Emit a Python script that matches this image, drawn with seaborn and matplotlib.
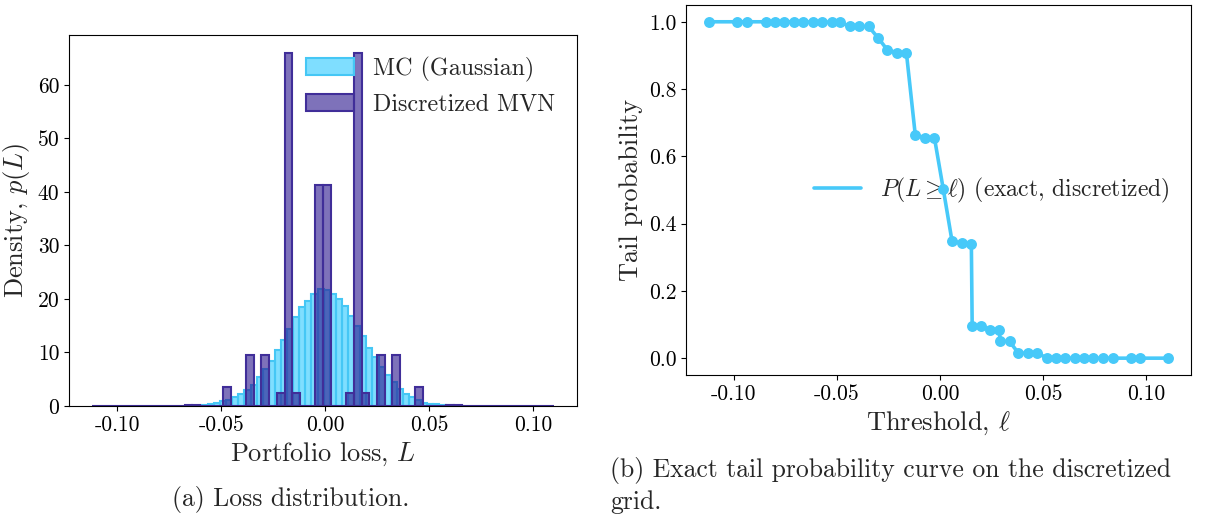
import numpy as np
import pandas as pd
import matplotlib
matplotlib.use("Agg")
import matplotlib.pyplot as plt
import seaborn as sns

# ---------------------------------------------
# DATA
# ---------------------------------------------
# MC (Gaussian) histogram, density per bin
mc_lo, mc_hi = -0.06818, 0.06678
mc_density = [0.03, 0.05, 0.08, 0.1, 0.3, 0.6, 1.0, 1.2, 1.6, 2.2,
              2.9, 3.9, 5.4, 6.9, 8.4, 10.5, 12.3, 14.4, 16.7, 18.4,
              19.6, 20.9, 21.8, 21.7, 20.9, 19.9, 18.7, 16.8, 15.0, 13.1,
              10.8, 9.1, 7.2, 5.8, 4.5, 3.1, 2.2, 1.6, 1.2, 0.6,
              0.4, 0.3, 0.15, 0.1, 0.05, 0.03]

# Discretized MVN histogram, density per bin (60 bins)
disc_lo, disc_hi = -0.1122, 0.1102
disc_density = [0.02, 0, 0, 0, 0, 0, 0, 0, 0, 0,
                0, 0, 0.15, 0.15, 0, 0, 0, 3.5, 0, 0,
                9.5, 0, 9.5, 0, 2.5, 66.0, 2.5, 0, 0, 41.2,
                41.2, 0, 0, 2.5, 66.0, 2.5, 0, 9.5, 0, 9.5,
                0, 0, 3.5, 0, 0, 0, 0.15, 0.15, 0, 0,
                0, 0, 0, 0, 0, 0, 0, 0, 0, 0.02]

# Exact tail probability P(L >= l) on the discretized grid
threshold = [-0.1121, -0.0984, -0.0939, -0.0847, -0.0802, -0.0755, -0.0710, -0.0664,
             -0.0618, -0.0572, -0.0527, -0.0484, -0.0439, -0.0392, -0.0347, -0.0301,
             -0.0257, -0.0209, -0.0164, -0.0121, -0.0073, -0.0028, 0.0015, 0.0057,
             0.0105, 0.0151, 0.0155, 0.0197, 0.0242, 0.0287, 0.0290, 0.0336,
             0.0379, 0.0424, 0.0471, 0.0516, 0.0561, 0.0605, 0.0653, 0.0698,
             0.0742, 0.0790, 0.0836, 0.0923, 0.0968, 0.1105]
tail_prob = [1.000, 1.000, 1.000, 1.000, 1.000, 1.000, 1.000, 1.000,
             0.999, 0.999, 0.999, 0.999, 0.986, 0.986, 0.986, 0.952,
             0.917, 0.908, 0.908, 0.664, 0.655, 0.655, 0.502, 0.349,
             0.341, 0.338, 0.095, 0.095, 0.085, 0.085, 0.050, 0.050,
             0.015, 0.015, 0.015, 0.001, 0.001, 0.000, 0.000, 0.000,
             0.000, 0.000, 0.000, 0.000, 0.000, 0.000]

# ---------------------------------------------
# STYLE
# ---------------------------------------------
sns.set_style("ticks")
plt.rcParams['font.family'] = ['cmr10', 'DejaVu Serif']
plt.rcParams['mathtext.fontset'] = 'cm'
plt.rcParams['axes.unicode_minus'] = False
plt.rcParams['axes.edgecolor'] = 'black'
plt.rcParams['xtick.color'] = 'black'
plt.rcParams['ytick.color'] = 'black'

TICK_FS = 15.5
LABEL_FS = 19
LEGEND_FS_A = 17.3
LEGEND_FS_B = 17
CAPTION_FS = 18.5

MC_FACE = (0.0, 0.75, 1.0, 0.5)
MC_EDGE = (0.27, 0.78, 0.96, 1.0)
DISC_FACE = (0.16, 0.08, 0.55, 0.6)
DISC_EDGE = (0.25, 0.18, 0.60, 1.0)
LINE_COLOR = '#47C9F9'

fig = plt.figure(figsize=(12.07, 5.17), dpi=100)
ax1 = fig.add_axes([0.0572, 0.2147, 0.4209, 0.7176])
ax2 = fig.add_axes([0.5684, 0.2747, 0.4184, 0.7157])

# ---------------------------------------------
# (a) Loss distribution
# ---------------------------------------------
mc_n = len(mc_density)
mc_edges = np.linspace(mc_lo, mc_hi, mc_n + 1)
mc_df = pd.DataFrame({'L': (mc_edges[:-1] + mc_edges[1:]) / 2, 'w': mc_density})

disc_n = len(disc_density)
disc_edges = np.linspace(disc_lo, disc_hi, disc_n + 1)
disc_df = pd.DataFrame({'L': (disc_edges[:-1] + disc_edges[1:]) / 2, 'w': disc_density})

sns.histplot(data=mc_df, x='L', weights='w', bins=mc_n, binrange=(mc_lo, mc_hi),
             facecolor=MC_FACE, edgecolor=MC_EDGE, linewidth=1.5,
             label='MC (Gaussian)', ax=ax1)
sns.histplot(data=disc_df, x='L', weights='w', bins=disc_n, binrange=(disc_lo, disc_hi),
             facecolor=DISC_FACE, edgecolor=DISC_EDGE, linewidth=1.5,
             label='Discretized MVN', ax=ax1)

ax1.set_xlabel("Portfolio loss, $L$", fontsize=LABEL_FS)
ax1.set_ylabel("Density, $p(L)$", fontsize=LABEL_FS)
ax1.set_xticks([-0.10, -0.05, 0.00, 0.05, 0.10])
ax1.tick_params(labelsize=TICK_FS)
ax1.legend(loc='upper right', frameon=False, fontsize=LEGEND_FS_A)

# ---------------------------------------------
# (b) Tail probability curve
# ---------------------------------------------
tail_df = pd.DataFrame({'l': threshold, 'p': tail_prob})
sns.lineplot(data=tail_df, x='l', y='p', color=LINE_COLOR, linewidth=2.6,
             estimator=None, sort=False,
             label=r"$P(L \geq \ell)$ (exact, discretized)", ax=ax2, zorder=6)
sns.scatterplot(data=tail_df, x='l', y='p', color=LINE_COLOR, s=62, linewidth=0,
                ax=ax2, zorder=7, legend=False)

ax2.set_xlabel(r"Threshold, $\ell$", fontsize=LABEL_FS)
ax2.set_ylabel("Tail probability", fontsize=LABEL_FS)
ax2.set_xticks([-0.10, -0.05, 0.00, 0.05, 0.10])
ax2.tick_params(labelsize=TICK_FS)
leg = ax2.legend(loc='center right', frameon=False, fontsize=LEGEND_FS_B)
leg.set_zorder(1)

# ---------------------------------------------
# CAPTIONS
# ---------------------------------------------
fig.text(0.2411, 0.0348, "(a) Loss distribution.", ha='center', va='center',
         fontsize=CAPTION_FS)
fig.text(0.5054, 0.0909, "(b) Exact tail probability curve on the discretized",
         ha='left', va='center', fontsize=CAPTION_FS)
fig.text(0.5054, 0.0290, "grid.", ha='left', va='center', fontsize=CAPTION_FS)

plt.savefig("out.png", dpi=100)
plt.close()
